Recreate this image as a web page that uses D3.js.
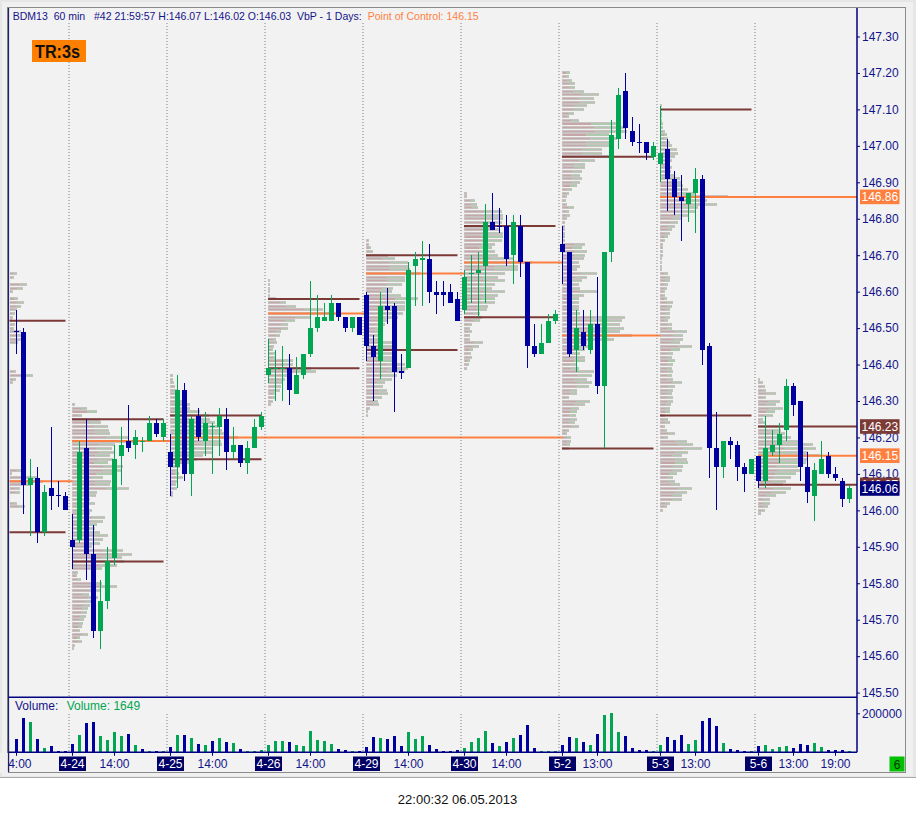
<!DOCTYPE html>
<html><head><meta charset="utf-8">
<script src="https://cdn.jsdelivr.net/npm/d3@7/dist/d3.min.js"></script>
<style>body{margin:0;background:#fff}svg{display:block}text{font-family:"Liberation Sans",Arial,sans-serif}</style>
</head><body>
<svg id="c" width="916" height="816"></svg>
<script>
// ---------------- DATA ----------------
const dayLabels = ["4-24","4-25","4-26","4-29","4-30","5-2","5-3","5-6"];
const dayStart  = [-6, 8, 22, 36, 50, 64, 78, 92, 106];   // first hourly bar of each session (first begins off-chart)
const hourTickIdx  = [0, 14, 28, 42, 56, 70, 83, 97, 111, 117];
const hourTickText = ["14:00","14:00","14:00","14:00","14:00","14:00","13:00","13:00","13:00","19:00"];
const priceTicks = [145.5,145.6,145.7,145.8,145.9,146.0,146.1,146.2,146.3,146.4,146.5,146.6,146.7,146.8,146.9,147.0,147.1,147.2,147.3];
const volumeTicks = [200000];

const open  = [146.49,146.49,146.07,146.09,145.94,146.06,146.04,146.04,
 145.92,145.92,146.17,145.88,145.67,145.75,145.87,146.15,146.19,146.18,146.19,146.19,146.24,146.20,
 146.16,146.12,146.33,146.10,146.26,146.19,146.23,146.23,146.25,146.16,146.18,146.13,146.17,146.23,
 146.37,146.39,146.39,146.39,146.32,146.37,146.43,146.50,146.52,146.52,146.57,146.53,146.50,146.53,
 146.59,146.45,146.41,146.56,146.56,146.38,146.39,146.67,146.69,146.69,146.60,146.60,146.60,146.58,
 146.55,146.65,146.65,146.67,146.79,146.78,146.78,146.70,146.78,146.68,146.45,146.43,146.46,146.52,
 146.73,146.71,146.44,146.49,146.44,146.51,146.34,146.71,147.02,147.15,147.04,147.01,147.01,146.97,
 146.95,146.99,146.91,146.86,146.84,146.87,146.91,146.45,146.17,146.12,146.19,146.18,146.12,146.10,
 146.15,146.08,146.16,146.18,146.22,146.34,146.30,146.12,146.04,146.10,146.15,146.10,146.08,146.03];
const high  = [146.55,146.50,146.14,146.12,146.07,146.23,146.08,146.05,
 145.99,146.19,146.25,145.96,145.81,145.90,146.18,146.23,146.29,146.22,146.20,146.26,146.25,146.25,
 146.21,146.37,146.35,146.26,146.28,146.27,146.24,146.28,146.28,146.23,146.18,146.19,146.25,146.27,
 146.47,146.44,146.45,146.43,146.42,146.43,146.63,146.59,146.57,146.59,146.57,146.53,146.53,146.53,
 146.60,146.48,146.60,146.61,146.57,146.43,146.68,146.71,146.74,146.73,146.63,146.63,146.62,146.60,
 146.66,146.70,146.71,146.84,146.87,146.83,146.81,146.81,146.81,146.68,146.51,146.51,146.54,146.55,
 146.78,146.71,146.55,146.55,146.55,146.64,146.71,147.07,147.16,147.20,147.08,147.06,147.01,147.01,
 147.11,147.02,146.93,146.92,146.87,146.94,146.92,146.46,146.27,146.19,146.20,146.19,146.13,146.14,
 146.15,146.26,146.22,146.24,146.36,146.35,146.30,146.16,146.13,146.19,146.16,146.12,146.09,146.07];
const low   = [146.43,145.99,145.93,145.91,145.93,146.00,146.01,146.00,
 145.84,145.91,145.81,145.65,145.62,145.73,145.85,146.07,146.16,146.14,146.16,146.19,146.20,146.19,
 146.04,146.06,146.08,146.04,146.19,146.15,146.10,146.15,146.11,146.14,146.12,146.10,146.17,146.22,
 146.35,146.30,146.30,146.29,146.32,146.36,146.42,146.49,146.52,146.52,146.52,146.49,146.49,146.48,
 146.41,146.30,146.36,146.51,146.27,146.36,146.39,146.56,146.56,146.57,146.54,146.56,146.57,146.52,
 146.54,146.57,146.53,146.57,146.77,146.76,146.67,146.62,146.64,146.39,146.42,146.43,146.46,146.51,
 146.62,146.42,146.38,146.44,146.43,146.32,146.17,146.68,146.99,147.02,147.00,146.98,146.96,146.96,
 146.90,146.82,146.81,146.74,146.79,146.76,146.40,146.09,146.00,146.09,146.14,146.08,146.05,146.10,
 146.06,146.06,146.15,146.13,146.19,146.26,146.08,146.02,145.97,146.10,146.09,146.08,146.01,146.02];
const close = [146.49,146.07,146.09,145.94,146.05,146.04,146.04,146.00,
 145.90,146.16,145.88,145.67,145.75,145.86,146.14,146.18,146.17,146.20,146.19,146.24,146.21,146.24,
 146.12,146.33,146.10,146.25,146.20,146.24,146.23,146.26,146.16,146.18,146.13,146.17,146.23,146.26,
 146.39,146.39,146.39,146.33,146.37,146.43,146.50,146.53,146.53,146.57,146.53,146.50,146.53,146.48,
 146.45,146.42,146.56,146.55,146.38,146.38,146.66,146.69,146.69,146.60,146.59,146.59,146.57,146.52,
 146.64,146.65,146.66,146.79,146.77,146.78,146.69,146.79,146.68,146.45,146.43,146.46,146.52,146.54,
 146.71,146.43,146.50,146.45,146.51,146.34,146.71,147.03,147.14,147.05,147.01,147.01,146.98,147.00,
 146.98,146.91,146.86,146.85,146.87,146.91,146.44,146.17,146.12,146.19,146.18,146.12,146.10,146.14,
 146.08,146.17,146.18,146.21,146.34,146.29,146.12,146.05,146.11,146.14,146.10,146.09,146.03,146.06];
const volume = [68000,176000,155000,68000,22000,32000,8500,8500,
 43000,89000,150000,155000,84000,63000,104000,84000,94000,38000,17000,8500,8500,8500,
 27000,89000,89000,73000,43000,38000,58000,73000,53000,48000,17000,8500,8500,12000,
 38000,58000,58000,53000,38000,32000,109000,63000,58000,43000,17000,12000,8500,7000,
 27000,79000,73000,68000,84000,32000,104000,68000,84000,38000,17000,8500,8500,12000,
 22000,53000,73000,109000,48000,32000,53000,73000,89000,140000,22000,7000,7000,7000,
 38000,79000,73000,53000,38000,94000,191000,202000,104000,84000,22000,12000,12000,7000,
 38000,79000,63000,89000,43000,63000,161000,176000,135000,48000,17000,12000,7000,7000,
 32000,38000,17000,27000,32000,22000,43000,38000,48000,27000,12000,12000,12000,1649];

// Volume-by-price profile per session: highest price level, then volume per 0.01 step downward (thousands)
const profileTop = [146.65,146.29,146.37,146.63,146.74,146.87,147.20,147.11,146.36];
const profileVolumes = [
 [7,4,0,17,13,3,0,8,14,11,7,5,3,2,5,4,11,11,11,8,0,0,0,0,0,0,0,6,23,6,3,
  0,0,0,0,0,0,0,0,0,0,0,0,0,0,0,0,0,0,0,0,0,0,0,11,2,28,33,20,10,10,0,0,7,15],
 [3,15,25,10,28,29,36,37,38,56,62,43,40,43,38,41,36,51,50,40,31,39,38,57,25,24,18,23,14,20,
  18,33,31,25,23,28,36,31,28,20,51,60,50,52,45,30,6,5,9,30,45,28,17,26,21,18,16,15,14,12,11,10,8,16,8,10,3,2],
 [3,3,4,5,7,7,8,12,20,20,30,39,40,45,50,52,55,68,51,52,43,42,33,27,23,10,8,9,13,8,6,7,3,3],
 [2,2,2,2,2,8,18,28,55,62,42,27,20,20,13,12,8,9,6,5,7,8,25,25,43,48,20,17,15,13,12,8,7,5,3],
 [3,3,5,7,22,29,42,42,44,54,39,39,36,27,26,35,52,39,39,39,37,32,22,19,16,17,16,12,26,26,27,29,31,29,39,42,39,31,26,19,17,21,22,16,12,13,4,2,2],
 [3,3,11,13,14,38,39,39,38,31,36,39,39,38,31,28,31,34,49,68,54,54,41,34,41,31,28,41,34,31,31,24,23,16,18,16,8,6,8,6,6,19,15,9,7,8,6,5,3],
 [8,7,10,13,13,22,37,32,33,25,22,12,7,17,57,63,65,47,55,47,48,40,40,48,33,23,23,20,18,20,
  18,15,10,7,5,4,5,12,7,8,5,3,3,3,3,3,3,23,20,25,23,22,17,18,15,35,25,20,17,18,
  35,22,17,17,17,17,18,63,60,58,62,58,70,52,25,30,23,18,23,23,15,17,32,30,25,30,27,15,15,7,
  28,23,17,15,14,15,13,17,7,5,9,9,8,7],
 [2,2,2,2,2,3,3,5,7,8,10,12,17,18,15,12,10,12,11,15,20,22,23,28,35,68,47,57,38,35,
  28,22,18,15,12,10,8,5,3,3,3,3,2,2,2,2,8,10,10,8,7,5,5,7,13,12,10,10,10,8,
  12,12,27,23,23,20,32,20,13,12,15,13,12,13,12,13,22,15,13,12,13,13,11,10,10,5,8,10,5,
  7,15,8,27,33,42,28,22,27,28,23,22,17,13,15,20,32,27,22,22,10,7,3],
 [2,5,7,8,18,8,22,18,25,17,15,5,8,25,23,27,33,40,55,58,50,62,50,48,40,42,38,33,28,25,33,28,18,12,12,10,7,3]
];
const profileSellShare = [0.55,0.6,0.6,0.65,0.55,0.55,0.5,0.55,0.45];
const valueAreaHigh = [146.52,146.25,146.26,146.58,146.70,146.78,146.97,147.10,146.23];
const pointOfControl = [146.08,146.19,146.20,146.54,146.65,146.68,146.48,146.86,146.15];
const valueAreaLow  = [145.94,145.86,146.14,146.39,146.44,146.53,146.17,146.26,146.07];
const pocEndBar = [8,22,78,50,64,78,92,null,null];   // null: line runs to the price axis
const vaRunsToAxis = [false,false,false,false,false,false,false,false,true];
const axisMarkerPrice = [146.86,146.23,146.15,146.07,146.06];
const axisMarkerKind  = ["poc","va","poc","va","last"];

// ---------------- LAYOUT ----------------
const svg = d3.select("#c");
const plotL = 8.5, plotR = 857, plotTop = 8, priceBot = 697.3, volBase = 752.3;
const x  = d3.scaleLinear().domain([0, 119]).range([16.5, 849.5]);
const y  = d3.scaleLinear().domain([145.5, 147.3]).range([692.6, 36.5]);
const yv = d3.scaleLinear().domain([0, 200000]).range([volBase, 713.3]);
const pw = d3.scaleLinear().domain([0, 100]).range([0, 100]);

const C = {up:"#00A651", dn:"#0000A0", navy:"#000080", txt:"#14148A", poc:"#FF7F3F", va:"#7B3A36",
           grid:"#808080", bg:"#F2F2F2", pgrey:"#C8C2C2", ppink:"#C6A6A6", pgreen:"#ADCAAD"};

// window background
svg.append("rect").attr("width",916).attr("height",816).attr("fill","#fff");
svg.append("rect").attr("width",916).attr("height",778).attr("fill","#E6E6E6");
svg.append("rect").attr("x",2).attr("y",2).attr("width",911).attr("height",774).attr("fill","#F0F0F0");
svg.append("line").attr("x1",0).attr("x2",916).attr("y1",777.5).attr("y2",777.5).attr("stroke","#A8A8A8");
svg.append("rect").attr("x",7.5).attr("y",7.5).attr("width",898).attr("height",765)
   .attr("fill",C.bg).attr("stroke","#8A8A8A");
svg.append("line").attr("x1",plotL).attr("x2",plotL).attr("y1",8).attr("y2",772).attr("stroke","#20206A").attr("stroke-width",1.2);

svg.append("clipPath").attr("id","clipP").append("rect").attr("x",9).attr("y",8).attr("width",plotR-9).attr("height",priceBot-8);
const gP = svg.append("g").attr("clip-path","url(#clipP)");

// session separators
const sepX = dayStart.slice(1).map(k => x(k) - 3.5);
const gSep = svg.append("g");
sepX.forEach(sx => {
  gSep.append("line").attr("x1",sx).attr("x2",sx).attr("y1",23).attr("y2",priceBot)
      .attr("stroke",C.grid).attr("stroke-dasharray","1,2");
  gSep.append("line").attr("x1",sx).attr("x2",sx).attr("y1",714).attr("y2",volBase)
      .attr("stroke",C.grid).attr("stroke-dasharray","1,2");
});

// volume-by-price profiles
const gProf = gP.append("g").attr("shape-rendering","crispEdges");
profileVolumes.forEach((vols, d) => {
  const x0 = Math.max(9.5, x(dayStart[d]) - 0.5);
  vols.forEach((v, i) => {
    if (!v) return;
    const p = +(profileTop[d] - i * 0.01).toFixed(2);
    const w = pw(v), yc = y(p);
    gProf.append("rect").attr("x",x0).attr("y",yc-1.5).attr("width",w).attr("height",3).attr("fill",C.pgrey);
    const ws = Math.max(0, (w - 1) * profileSellShare[d]);
    gProf.append("rect").attr("x",x0+0.5).attr("y",yc-0.5).attr("width",ws).attr("height",1.1).attr("fill",C.ppink);
    gProf.append("rect").attr("x",x0+0.5+ws).attr("y",yc-0.5).attr("width",Math.max(0,w-1-ws)).attr("height",1.1).attr("fill",C.pgreen);
  });
});

// value area and point of control lines
const gLev = gP.append("g");
valueAreaHigh.forEach((vh, d) => {
  const x0 = Math.max(9.5, x(dayStart[d]) - 0.5);
  const lastBar = d < dayStart.length - 1 ? dayStart[d+1] - 1 : 119;
  const vaEnd = vaRunsToAxis[d] ? plotR : x(lastBar);
  [vh, valueAreaLow[d]].forEach(p => gLev.append("line").attr("x1",x0).attr("x2",vaEnd)
      .attr("y1",y(p)).attr("y2",y(p)).attr("stroke",C.va).attr("stroke-width",2));
  const pe = pocEndBar[d] === null ? plotR : x(pocEndBar[d]);
  gLev.append("line").attr("x1",x0).attr("x2",pe).attr("y1",y(pointOfControl[d])).attr("y2",y(pointOfControl[d]))
      .attr("stroke",C.poc).attr("stroke-width",2);
});

// candles
let prevCol = C.dn;
const candleCol = open.map((o, i) => { const c = close[i]; const col = c > o ? C.up : c < o ? C.dn : prevCol; prevCol = col; return col; });
let prevVol = C.dn;
const volCol = close.map((c, i) => {
  let col;
  if (c !== open[i]) col = candleCol[i];
  else { const pc = i > 0 ? close[i-1] : c; col = c > pc ? C.up : c < pc ? C.dn : prevVol; }
  prevVol = col; return col;
});
const gC = gP.append("g").attr("shape-rendering","crispEdges");
open.forEach((o, i) => {
  const cx = x(i), c = close[i], col = candleCol[i];
  gC.append("rect").attr("x",cx-0.5).attr("y",y(high[i])).attr("width",1.2)
     .attr("height",Math.max(1,y(low[i])-y(high[i]))).attr("fill",col);
  if (o === c) {
    gC.append("rect").attr("x",cx-2.5).attr("y",y(o)-0.5).attr("width",5).attr("height",1.2).attr("fill",col);
  } else {
    const t = y(Math.max(o,c)), b = y(Math.min(o,c));
    gC.append("rect").attr("x",cx-2.5).attr("y",t).attr("width",5).attr("height",Math.max(1,b-t)).attr("fill",col);
  }
});

// volume bars
const gV = svg.append("g").attr("shape-rendering","crispEdges");
volume.forEach((v, i) => {
  const h = Math.max(1, volBase - yv(v));
  gV.append("rect").attr("x",x(i)-1.5).attr("y",volBase-h).attr("width",3).attr("height",h).attr("fill",volCol[i]);
});

// panel lines
svg.append("line").attr("x1",plotL).attr("x2",plotR).attr("y1",priceBot).attr("y2",priceBot).attr("stroke",C.navy).attr("stroke-width",1.5);
svg.append("line").attr("x1",plotL).attr("x2",plotR).attr("y1",volBase).attr("y2",volBase).attr("stroke",C.navy).attr("stroke-width",1.5);
svg.append("line").attr("x1",plotR).attr("x2",plotR).attr("y1",8).attr("y2",volBase).attr("stroke",C.navy).attr("stroke-width",1.5);

// right price axis
const styleAxis = g => {
  g.select(".domain").remove();
  g.selectAll("line").attr("stroke",C.navy);
  g.selectAll("text").attr("font-size",12).attr("fill",C.txt).attr("font-family","Liberation Sans, Arial, sans-serif");
};
svg.append("g").attr("transform",`translate(${plotR},0)`)
   .call(d3.axisRight(y).tickValues(priceTicks).tickFormat(d3.format(".2f")).tickSize(3).tickPadding(2).tickSizeOuter(0))
   .call(styleAxis);
svg.append("g").attr("transform",`translate(${plotR},0)`)
   .call(d3.axisRight(yv).tickValues(volumeTicks).tickFormat(d3.format("d")).tickSize(3).tickPadding(2).tickSizeOuter(0))
   .call(styleAxis);

// price markers on axis
const markerFill = {poc:C.poc, va:C.va, last:"#00007A"};
axisMarkerPrice.forEach((p, i) => {
  const yc = y(p);
  svg.append("rect").attr("x",860).attr("y",yc-7.3).attr("width",39.5).attr("height",14.6).attr("fill",markerFill[axisMarkerKind[i]]);
  svg.append("text").attr("x",861.5).attr("y",yc+4.3).attr("font-size",12).attr("fill","#fff").text(d3.format(".2f")(p));
});

// bottom time axis
const gX = svg.append("g");
hourTickIdx.forEach((k, i) => {
  gX.append("line").attr("x1",x(k)).attr("x2",x(k)).attr("y1",volBase).attr("y2",volBase+3.5).attr("stroke",C.navy);
  gX.append("text").attr("x",x(k)).attr("y",768).attr("text-anchor","middle").attr("font-size",12).attr("fill",C.txt).text(hourTickText[i]);
});
dayLabels.forEach((lab, i) => {
  const k = dayStart[i+1];
  gX.append("line").attr("x1",x(k)).attr("x2",x(k)).attr("y1",volBase).attr("y2",volBase+3.5).attr("stroke",C.navy);
  gX.append("rect").attr("x",x(k)-13.5).attr("y",756.5).attr("width",27).attr("height",14.5).attr("fill","#000066");
  gX.append("text").attr("x",x(k)).attr("y",768).attr("text-anchor","middle").attr("font-size",12).attr("fill","#fff").text(lab);
});
// cover left overflow of first label
svg.append("rect").attr("x",0).attr("y",753).attr("width",8).attr("height",20).attr("fill","#F0F0F0");
svg.append("line").attr("x1",plotL).attr("x2",plotL).attr("y1",740).attr("y2",772).attr("stroke","#20206A").attr("stroke-width",1.2);

// green counter box
svg.append("rect").attr("x",889.5).attr("y",756.5).attr("width",15).attr("height",15).attr("fill","#00C000");
svg.append("text").attr("x",897).attr("y",768.5).attr("text-anchor","middle").attr("font-size",12).attr("fill","#053005").text("6");

// header
svg.append("text").attr("x",12.7).attr("y",19.5).attr("font-size",10.5).attr("fill",C.txt)
   .attr("textLength",349).attr("lengthAdjust","spacing").style("white-space","pre")
   .text("BDM13  60 min   #42 21:59:57 H:146.07 L:146.02 O:146.03  VbP - 1 Days:");
svg.append("text").attr("x",367.7).attr("y",19.5).attr("font-size",10.5).attr("fill",C.poc)
   .attr("textLength",111).attr("lengthAdjust","spacing").text("Point of Control: 146.15");

// TR box
svg.append("rect").attr("x",32).attr("y",40).attr("width",54).attr("height",22).attr("fill","#FF8000");
svg.append("text").attr("x",35).attr("y",58).attr("font-size",18).attr("font-weight","bold").attr("fill","#111")
   .attr("textLength",45).attr("lengthAdjust","spacingAndGlyphs").text("TR:3s");

// volume title
svg.append("text").attr("x",15).attr("y",710).attr("font-size",12).attr("fill",C.txt).text("Volume:");
svg.append("text").attr("x",66.7).attr("y",710).attr("font-size",12).attr("fill","#00A651").text("Volume: 1649");

// timestamp
svg.append("text").attr("x",457.5).attr("y",804).attr("text-anchor","middle").attr("font-size",13).attr("fill","#111").text("22:00:32 06.05.2013");
</script>
</body></html>
